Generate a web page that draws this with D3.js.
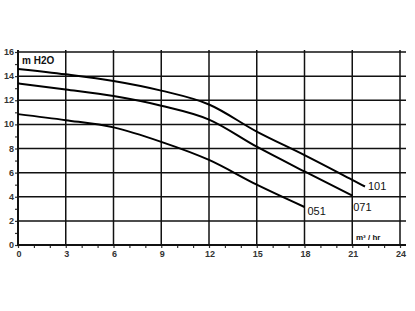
<!DOCTYPE html>
<html>
<head>
<meta charset="utf-8">
<script src="https://cdn.jsdelivr.net/npm/d3@7"></script>
<style>
  body { margin: 0; background: #fff; }
  text { font-family: "Liberation Sans", Arial, sans-serif; fill: #111; }
</style>
</head>
<body>
<div id="chart"></div>
<script>
// Data
const xTicks = [0, 3, 6, 9, 12, 15, 18, 21, 24];
const yTicks = [0, 2, 4, 6, 8, 10, 12, 14, 16];

const flow101 = [0, 3, 6, 9, 12, 15, 18, 21, 21.8];
const head101 = [14.6, 14.15, 13.6, 12.8, 11.65, 9.4, 7.45, 5.4, 4.85];

const flow071 = [0, 3, 6, 9, 12, 15, 18, 21];
const head071 = [13.4, 12.9, 12.35, 11.55, 10.4, 8.15, 6.1, 4.1];

const flow051 = [0, 3, 6, 9, 12, 15, 18];
const head051 = [10.85, 10.35, 9.75, 8.55, 7.05, 5.0, 3.15];

const seriesNames = ['101', '071', '051'];

// Chart setup
const width = 415;
const height = 311;
const svg = d3.select('#chart')
  .append('svg')
  .attr('width', width)
  .attr('height', height);

const x = d3.scaleLinear().domain([0, 24]).range([18, 400]);
const y = d3.scaleLinear().domain([0, 16]).range([245, 52]);

// Axes with minor ticks
const xAxis = svg.append('g')
  .attr('transform', `translate(0,${y(0)})`)
  .call(d3.axisBottom(x).tickValues(d3.range(0, 25, 1)).tickSize(3).tickFormat(''));
xAxis.select('.domain').remove();
xAxis.selectAll('line').attr('stroke', '#333').attr('stroke-width', 1.2);

const yAxis = svg.append('g')
  .attr('transform', `translate(${x(0)},0)`)
  .call(d3.axisLeft(y).tickValues(d3.range(0, 17, 1)).tickSize(3).tickFormat(''));
yAxis.select('.domain').remove();
yAxis.selectAll('line').attr('stroke', '#333').attr('stroke-width', 1.2);

// Axis lines and grid lines, all drawn the same way
yTicks.forEach(v => {
  svg.append('line')
    .attr('x1', x(0)).attr('x2', x(24) + 6)
    .attr('y1', y(v)).attr('y2', y(v))
    .attr('stroke', '#111').attr('stroke-width', v === 0 ? 2 : 1.5);
});
xTicks.forEach(v => {
  svg.append('line')
    .attr('x1', x(v)).attr('x2', x(v))
    .attr('y1', y(0) + 1).attr('y2', y(16) - 2)
    .attr('stroke', '#111').attr('stroke-width', v === 0 ? 2 : 1.5);
});

// Tick labels
svg.append('g')
  .selectAll('text')
  .data(xTicks)
  .enter().append('text')
  .attr('x', d => x(d) + 1)
  .attr('y', y(0) + 12)
  .attr('text-anchor', 'middle')
  .style('font-size', '9px')
  .style('font-weight', 'bold')
  .style('fill', '#333')
  .text(d => d);

svg.append('g')
  .selectAll('text')
  .data(yTicks)
  .enter().append('text')
  .attr('x', x(0) - 4)
  .attr('y', d => y(d) + 3)
  .attr('text-anchor', 'end')
  .style('font-size', '9px')
  .style('font-weight', 'bold')
  .style('fill', '#333')
  .text(d => d);

// Curves
const line = d3.line()
  .x(d => x(d[0]))
  .y(d => y(d[1]))
  .curve(d3.curveMonotoneX);

const curves = [
  d3.zip(flow101, head101),
  d3.zip(flow071, head071),
  d3.zip(flow051, head051)
];

svg.append('g')
  .selectAll('path')
  .data(curves)
  .enter().append('path')
  .attr('d', line)
  .attr('fill', 'none')
  .attr('stroke', '#000')
  .attr('stroke-width', 2);

// Curve labels
const labelOffsets = [[3, 4], [1, 15], [3, 8]];
svg.append('g')
  .selectAll('text')
  .data(curves)
  .enter().append('text')
  .attr('x', (d, i) => x(d[d.length - 1][0]) + labelOffsets[i][0])
  .attr('y', (d, i) => y(d[d.length - 1][1]) + labelOffsets[i][1])
  .style('font-size', '11px')
  .text((d, i) => seriesNames[i]);

// Units
svg.append('text')
  .attr('x', 22).attr('y', 64)
  .style('font-size', '10px')
  .style('font-weight', 'bold')
  .text('m  H2O');

svg.append('text')
  .attr('x', 356).attr('y', 240)
  .style('font-size', '8px')
  .style('font-weight', 'bold')
  .text('m³ / hr');
</script>
</body>
</html>
